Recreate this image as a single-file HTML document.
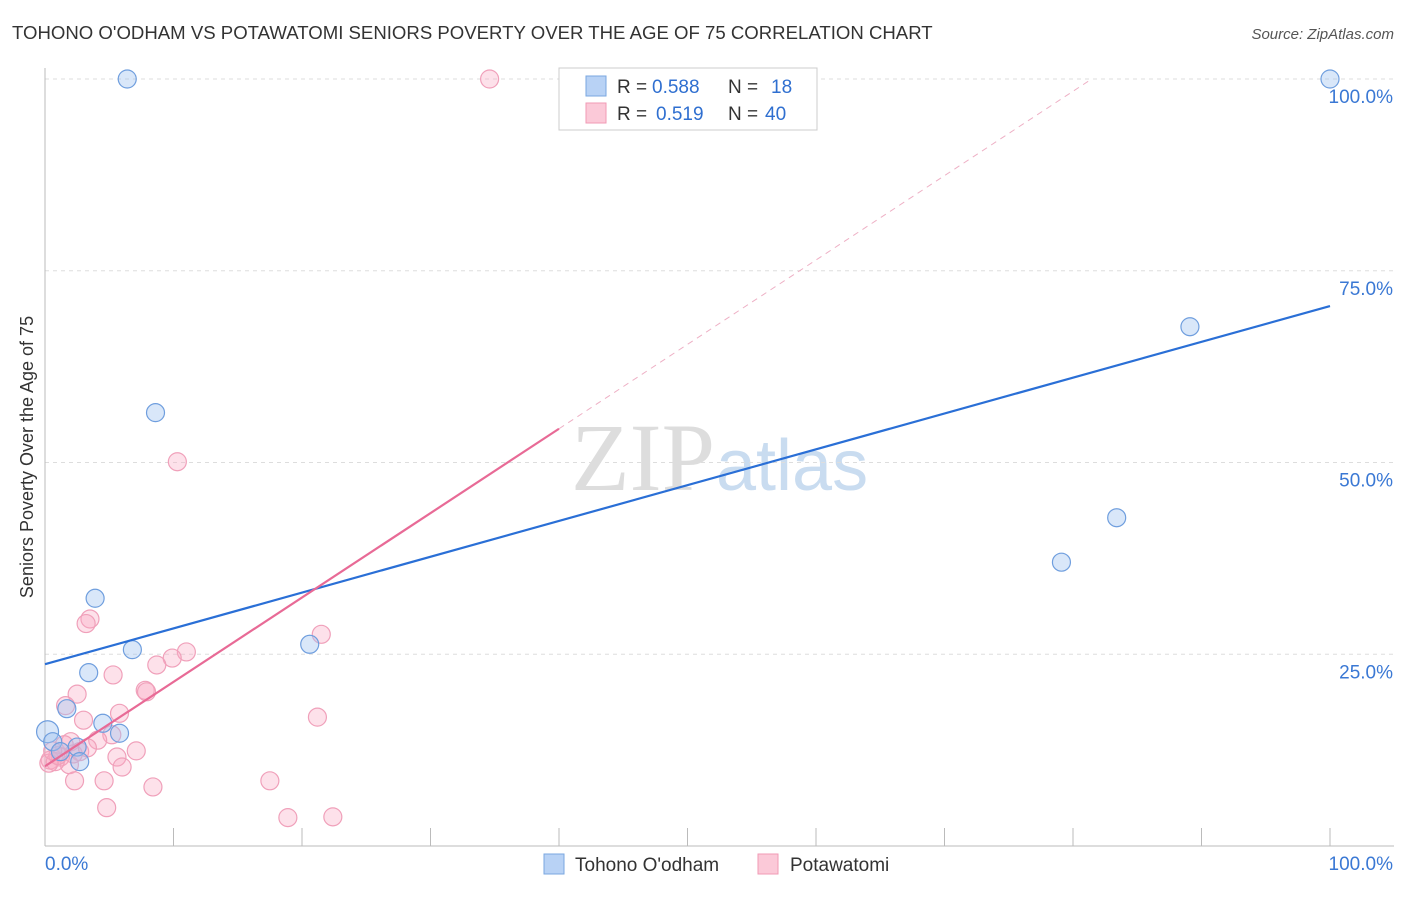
<!DOCTYPE html>
<html><head><meta charset="utf-8"><style>
body{margin:0;background:#fff;font-family:"Liberation Sans",sans-serif;}
</style></head><body>
<svg id="c" width="1406" height="892" xmlns="http://www.w3.org/2000/svg">
<text x="12" y="39" font-size="18.6" fill="#333">TOHONO O'ODHAM VS POTAWATOMI SENIORS POVERTY OVER THE AGE OF 75 CORRELATION CHART</text>
<text x="1394" y="39" font-size="15" fill="#555" text-anchor="end" font-style="italic">Source: ZipAtlas.com</text>
<text x="33" y="457" font-size="18" fill="#333" text-anchor="middle" transform="rotate(-90 33 457)">Seniors Poverty Over the Age of 75</text>
<text x="715" y="490" font-size="96" fill="#ddd" text-anchor="end" font-family="Liberation Serif">ZIP</text>
<text x="716" y="490" font-size="72" fill="#c9dcf0">atlas</text>
<g id="grid"></g><g id="axes"></g><g id="pts"></g><g id="lines"></g>
<g>
<rect x="559" y="68" width="258" height="62" fill="#fff" stroke="#ccc"/>
<rect x="586" y="76" width="20" height="20" fill="#b8d2f5" stroke="#7aa7e0"/>
<rect x="586" y="103" width="20" height="20" fill="#fbc9d8" stroke="#f09ab5"/>
<text x="617" y="93" font-size="19" fill="#333">R =</text>
<text x="652" y="93" font-size="19" fill="#2f6fd0">0.588</text>
<text x="728" y="93" font-size="19" fill="#333">N =</text>
<text x="771" y="93" font-size="19" fill="#2f6fd0">18</text>
<text x="617" y="120" font-size="19" fill="#333">R =</text>
<text x="656" y="120" font-size="19" fill="#2f6fd0">0.519</text>
<text x="728" y="120" font-size="19" fill="#333">N =</text>
<text x="765" y="120" font-size="19" fill="#2f6fd0">40</text>
</g>
<g>
<rect x="544" y="854" width="20" height="20" fill="#b8d2f5" stroke="#7aa7e0"/>
<text x="575" y="871" font-size="19" fill="#333">Tohono O'odham</text>
<rect x="758" y="854" width="20" height="20" fill="#fbc9d8" stroke="#f09ab5"/>
<text x="790" y="871" font-size="19" fill="#333">Potawatomi</text>
</g>
</svg>
<script>
const blueX=[6.4,100,8.6,89.1,83.4,79.1,3.9,6.8,20.6,3.4,1.7,4.5,5.8,0.2,0.6,2.5,2.7,1.2];
const blueY=[100,100,56.5,67.7,42.8,37.0,32.3,25.6,26.3,22.6,17.9,16.0,14.7,14.9,13.6,12.9,11.0,12.3];
const pinkX=[34.6,10.3,3.5,3.2,21.5,11,9.9,8.7,5.3,7.8,7.9,2.5,1.6,5.8,3.0,21.2,5.2,4.1,2.0,2.7,7.1,5.6,6.0,1.2,0.4,1.9,4.6,2.3,8.4,17.5,4.8,18.9,22.4,1.5,0.8,0.3,2.2,3.3,1.0,0.6];
const pinkY=[100,50.1,29.6,29.0,27.6,25.3,24.5,23.6,22.3,20.3,20.1,19.8,18.3,17.3,16.4,16.8,14.5,13.8,13.6,12.3,12.4,11.6,10.3,11.6,11.2,10.6,8.5,8.5,7.7,8.5,5.0,3.7,3.8,13.2,11.0,10.8,12.0,12.8,11.8,12.4];
const blueFit=[23.7,70.4];
const pinkFit=[10.4,1.1];
const yTicks=[25,50,75,100];
const X=v=>45+v*12.85, Y=v=>846-v*7.67;
const ns="http://www.w3.org/2000/svg";
function mk(t,a,p){const e=document.createElementNS(ns,t);for(const k in a)e.setAttribute(k,a[k]);p.appendChild(e);return e;}
const grid=document.getElementById('grid'),axes=document.getElementById('axes'),pts=document.getElementById('pts'),lines=document.getElementById('lines');
yTicks.forEach(t=>{
const l=mk('line',{x1:45,x2:1394,y1:Y(t),y2:Y(t),stroke:'#ddd','stroke-dasharray':'4 4'},grid);


const tx=mk('text',{x:1393,y:Y(t)+24,'font-size':19,fill:'#3a78d4','text-anchor':'end'},axes);
tx.textContent=t.toFixed(1)+'%';


});
mk('line',{x1:45,x2:45,y1:68,y2:846,stroke:'#bbb'},axes);
mk('line',{x1:45,x2:1394,y1:846,y2:846,stroke:'#bbb'},axes);
for(let i=0;i<=10;i++){mk('line',{x1:X(i*10),x2:X(i*10),y1:828,y2:846,stroke:'#bbb'},axes);}
let t0=mk('text',{x:45,y:870,'font-size':19,fill:'#3a78d4'},axes);t0.textContent='0.0%';


let t1=mk('text',{x:1393,y:870,'font-size':19,fill:'#3a78d4','text-anchor':'end'},axes);t1.textContent='100.0%';


pinkX.forEach((x,i)=>{const c=mk('circle',{cx:X(x),cy:Y(pinkY[i]),r:9,fill:'rgba(248,170,195,0.35)',stroke:'#f0a0ba','stroke-width':1.2},pts);

});
blueX.forEach((x,i)=>{const c=mk('circle',{cx:X(x),cy:Y(blueY[i]),r:i==13?11:9,fill:'rgba(160,195,240,0.4)',stroke:'#6f9ede','stroke-width':1.2},pts);

});
let b=mk('line',{x1:X(0),y1:Y(blueFit[0]),x2:X(100),y2:Y(blueFit[1]),stroke:'#2a6fd6','stroke-width':2.2},lines);


const pf=x=>pinkFit[0]+pinkFit[1]*x, xe=(100-pinkFit[0])/pinkFit[1];
let p=mk('line',{x1:X(0),y1:Y(pf(0)),x2:X(40),y2:Y(pf(40)),stroke:'#e86a96','stroke-width':2.2},lines);


let pd=mk('line',{x1:X(40),y1:Y(pf(40)),x2:X(xe),y2:Y(100),stroke:'#eeb0c5','stroke-width':1,'stroke-dasharray':'6 5'},lines);


</script>
</body></html>
